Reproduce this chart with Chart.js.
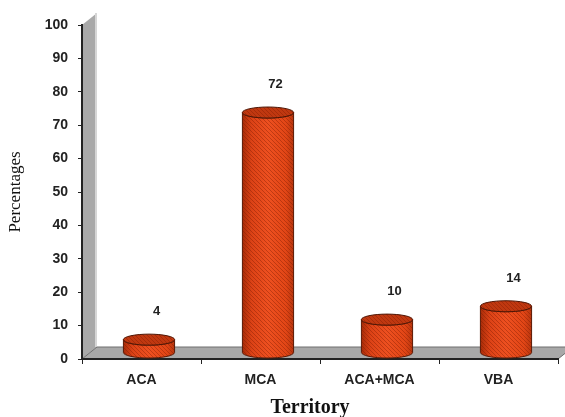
<!DOCTYPE html>
<html>
<head>
<meta charset="utf-8">
<script src="https://cdn.jsdelivr.net/npm/chart.js@4.4.1/dist/chart.umd.min.js"></script>
<style>
  html, body { margin: 0; padding: 0; background: #ffffff; }
  #wrap { width: 565px; height: 417px; }
</style>
</head>
<body>
<div id="wrap"><canvas id="c" width="565" height="417"></canvas></div>
<script>
// Share of cases by vascular territory
const territories = ['ACA', 'MCA', 'ACA+MCA', 'VBA'];
const percentages = [4, 72, 10, 14];
const yMin = 0, yMax = 100, yStep = 10;
const xTitle = 'Territory';
const yTitle = 'Percentages';

// Depth of the pseudo-3D wall, floor and cylinders
const DX = 15, DY = 12, RY = 5.5;

function hatchPattern(ctx) {
  const s = 4;
  const tile = document.createElement('canvas');
  tile.width = s; tile.height = s;
  const t = tile.getContext('2d');
  const img = t.createImageData(s, s);
  for (let y = 0; y < s; y++) {
    for (let x = 0; x < s; x++) {
      const i = (y * s + x) * 4;
      if ((x - y + s) % s === 0) {
        img.data[i] = 120; img.data[i + 1] = 25; img.data[i + 2] = 0; img.data[i + 3] = 95;
      }
    }
  }
  t.putImageData(img, 0, 0);
  return ctx.createPattern(tile, 'repeat');
}

const depthBox = {
  id: 'depthBox',
  beforeDraw(chart) {
    const { ctx, chartArea: a } = chart;
    ctx.save();
    // back wall
    ctx.beginPath();
    ctx.moveTo(a.left, a.top);
    ctx.lineTo(a.left + DX, a.top - DY);
    ctx.lineTo(a.left + DX, a.bottom - DY);
    ctx.lineTo(a.left, a.bottom);
    ctx.closePath();
    ctx.fillStyle = '#a9a9a9';
    ctx.fill();
    ctx.fillStyle = '#d6d6d6';
    ctx.fillRect(a.left + DX - 2, a.top - DY, 2, a.bottom - a.top);
    // floor
    ctx.beginPath();
    ctx.moveTo(a.left, a.bottom);
    ctx.lineTo(a.left + DX, a.bottom - DY);
    ctx.lineTo(a.right + DX, a.bottom - DY);
    ctx.lineTo(a.right, a.bottom);
    ctx.closePath();
    ctx.fillStyle = '#a8a8a8';
    ctx.fill();
    ctx.strokeStyle = '#6e6e6e';
    ctx.lineWidth = 1;
    ctx.stroke();
    ctx.restore();
  },
  afterDatasetsDraw(chart) {
    const { ctx } = chart;
    const meta = chart.getDatasetMeta(0);
    const pat = hatchPattern(ctx);
    ctx.save();
    meta.data.forEach((bar, i) => {
      const cx = bar.x + DX / 2;
      const rx = bar.width / 2;
      const topY = bar.y - DY / 2;
      const botY = bar.base - DY / 2;
      const body = new Path2D();
      body.moveTo(cx - rx, topY);
      body.lineTo(cx - rx, botY);
      body.ellipse(cx, botY, rx, RY, 0, Math.PI, 0, true);
      body.lineTo(cx + rx, topY);
      body.ellipse(cx, topY, rx, RY, 0, 0, Math.PI, false);
      body.closePath();
      const g = ctx.createLinearGradient(cx - rx, 0, cx + rx, 0);
      g.addColorStop(0, '#a82c08');
      g.addColorStop(0.18, '#dc4216');
      g.addColorStop(0.5, '#ee5020');
      g.addColorStop(0.85, '#e24616');
      g.addColorStop(1, '#b8360e');
      ctx.fillStyle = g;
      ctx.fill(body);
      ctx.fillStyle = pat;
      ctx.fill(body);
      ctx.strokeStyle = '#5c1a06';
      ctx.lineWidth = 1;
      ctx.stroke(body);
      // top cap
      const cap = new Path2D();
      cap.ellipse(cx, topY, rx, RY, 0, 0, Math.PI * 2);
      ctx.fillStyle = '#c03810';
      ctx.fill(cap);
      ctx.fillStyle = pat;
      ctx.fill(cap);
      ctx.strokeStyle = '#4e1504';
      ctx.stroke(cap);
      // value label
      ctx.fillStyle = '#222222';
      ctx.font = 'bold 13px "Liberation Sans", Arial, sans-serif';
      ctx.textAlign = 'center';
      ctx.textBaseline = 'middle';
      ctx.fillText(String(percentages[i]), bar.x + DX, bar.y - 34);
    });
    ctx.restore();
  },
  afterDraw(chart) {
    const { ctx, chartArea: a } = chart;
    ctx.save();
    ctx.fillStyle = '#111111';
    ctx.font = 'bold 20px "Liberation Serif", "Times New Roman", serif';
    ctx.textAlign = 'center';
    ctx.textBaseline = 'middle';
    ctx.fillText(xTitle, (a.left + a.right) / 2 - 10, 408);
    ctx.restore();
  }
};

new Chart(document.getElementById('c'), {
  type: 'bar',
  data: {
    labels: territories,
    datasets: [{
      data: percentages,
      backgroundColor: 'rgba(0,0,0,0)',
      borderWidth: 0,
      barPercentage: 0.43,
      categoryPercentage: 1
    }]
  },
  options: {
    responsive: false,
    animation: false,
    devicePixelRatio: 1,
    layout: { padding: { top: 25, right: 7, left: 0, bottom: 0 } },
    plugins: { legend: { display: false }, tooltip: { enabled: false } },
    events: [],
    scales: {
      x: {
        afterFit(scale) { scale.height = 58; },
        grid: { drawOnChartArea: false, tickLength: 5, color: '#222222', offset: true },
        border: { color: '#222222', width: 2 },
        ticks: {
          color: '#222222',
          padding: 8,
          font: { family: '"Liberation Sans", Arial, sans-serif', size: 14, weight: 'bold' }
        }
      },
      y: {
        min: yMin,
        max: yMax,
        afterFit(scale) { scale.width = 82; },
        grid: { drawOnChartArea: false, tickLength: 4, color: '#222222' },
        border: { color: '#222222', width: 2 },
        ticks: {
          stepSize: yStep,
          color: '#222222',
          padding: 10,
          font: { family: '"Liberation Sans", Arial, sans-serif', size: 14, weight: 'bold' }
        },
        title: {
          display: true,
          text: yTitle,
          color: '#111111',
          padding: { top: 7, bottom: 0 },
          font: { family: '"Liberation Serif", "Times New Roman", serif', size: 17, lineHeight: 1 }
        }
      }
    }
  },
  plugins: [depthBox]
});
</script>
</body>
</html>
